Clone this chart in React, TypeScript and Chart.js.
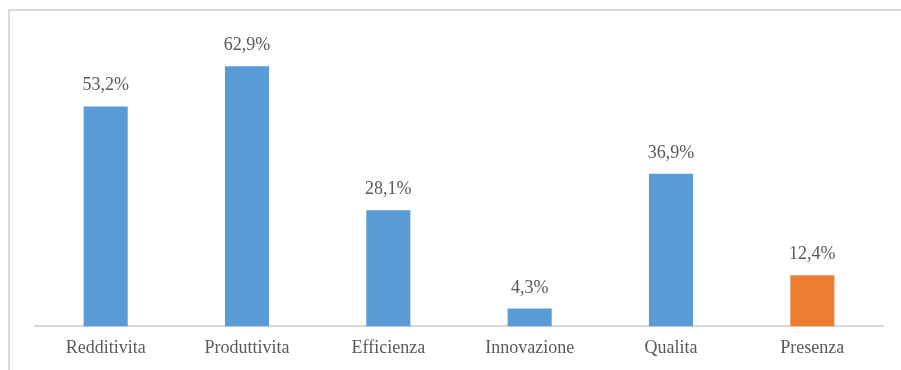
import React, { useEffect, useRef } from "react";
import { Chart, registerables } from "chart.js";

Chart.register(...registerables);

const categories = ["Redditivita", "Produttivita", "Efficienza", "Innovazione", "Qualita", "Presenza"];
const values = [53.2, 62.9, 28.1, 4.3, 36.9, 12.4];
const barColors = ["#5B9BD5", "#5B9BD5", "#5B9BD5", "#5B9BD5", "#5B9BD5", "#ED7D31"];
const valueLabels = ["53,2%", "62,9%", "28,1%", "4,3%", "36,9%", "12,4%"];

const FONT = "'Liberation Serif', 'DejaVu Serif', serif";

const labelPlugin = {
  id: "valueLabels",
  afterDatasetsDraw(chart: any) {
    const ctx = chart.ctx;
    const meta = chart.getDatasetMeta(0);
    ctx.save();
    ctx.font = `18px ${FONT}`;
    ctx.fillStyle = "#595959";
    ctx.textAlign = "center";
    ctx.textBaseline = "alphabetic";
    meta.data.forEach((bar: any, i: number) => {
      ctx.fillText(valueLabels[i], bar.x, bar.y - 16);
    });
    ctx.restore();
  },
};

export default function App() {
  const ref = useRef<HTMLCanvasElement>(null);
  useEffect(() => {
    if (!ref.current) return;
    const chart = new Chart(ref.current, {
      type: "bar",
      data: {
        labels: categories,
        datasets: [
          {
            data: values,
            backgroundColor: barColors,
            borderWidth: 0,
            categoryPercentage: 1,
            barPercentage: 0.312,
          },
        ],
      },
      options: {
        animation: false,
        responsive: false,
        maintainAspectRatio: false,
        layout: { padding: { left: 35, right: 18, top: 37, bottom: 0 } },
        plugins: { legend: { display: false }, tooltip: { enabled: false } },
        scales: {
          x: {
            grid: { display: false, drawTicks: false },
            border: { color: "#d9d9d9", width: 2 },
            ticks: {
              color: "#595959",
              font: { family: FONT, size: 18 },
              padding: 11,
              maxRotation: 0,
            },
          },
          y: {
            display: false,
            min: 0,
            max: 70,
          },
        },
      },
      plugins: [labelPlugin],
    });
    return () => chart.destroy();
  }, []);
  return (
    <div style={{ position: "fixed", left: 0, top: 0, width: 901, height: 370, background: "#fff", overflow: "hidden" }}>
      <div
        style={{
          position: "absolute",
          left: 8,
          top: 9,
          width: 1000,
          height: 1000,
          borderTop: "2px solid #d9d9d9",
          borderLeft: "2px solid #d9d9d9",
        }}
      />
      <canvas ref={ref} width={901} height={370} style={{ position: "absolute", left: 0, top: 0 }} />
    </div>
  );
}
